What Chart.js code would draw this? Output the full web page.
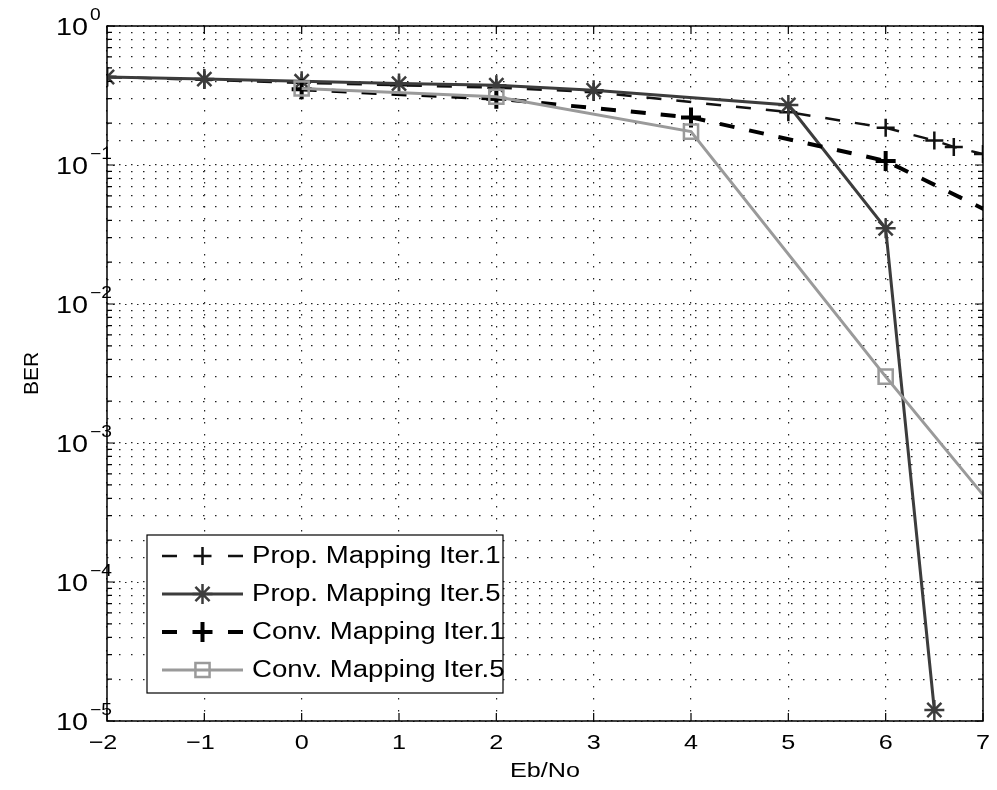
<!DOCTYPE html>
<html>
<head>
<meta charset="utf-8">
<script src="https://cdn.jsdelivr.net/npm/chart.js@4/dist/chart.umd.min.js"></script>
<style>
  html, body { margin: 0; padding: 0; background: #fff; }
  #wrap { width: 997px; height: 790px; }
</style>
</head>
<body>
<div id="wrap"><canvas id="berChart" width="997" height="790"></canvas></div>
<script>
// series names as in the legend
const seriesNames = ['Prop. Mapping Iter.1', 'Prop. Mapping Iter.5', 'Conv. Mapping Iter.1', 'Conv. Mapping Iter.5'];

// Eb/No points and BER values
const propIter1X = [-2, -1, 0, 1, 2, 3, 5, 6, 6.5, 6.7, 7];
const propIter1Y = [0.43, 0.41, 0.39, 0.375, 0.36, 0.335, 0.24, 0.185, 0.15, 0.135, 0.12];
const propIter5X = [-2, -1, 0, 1, 2, 3, 5, 6, 6.5];
const propIter5Y = [0.43, 0.415, 0.40, 0.385, 0.375, 0.345, 0.27, 0.035, 1.2e-5];
const convIter1X = [0, 2, 4, 6, 8];
const convIter1Y = [0.35, 0.30, 0.22, 0.107, 0.022];
const convIter5X = [0, 2, 4, 6, 8];
const convIter5Y = [0.355, 0.31, 0.174, 0.003, 0.00006];

// axis ticks
const xTicks = [-2, -1, 0, 1, 2, 3, 4, 5, 6, 7];
const yDecades = [0, -1, -2, -3, -4, -5];

const FONT = "'Liberation Sans', Arial, Helvetica, sans-serif";
const SX = 1.2; // the scan is a bit wider than tall, text looks stretched
Chart.defaults.font.family = FONT;
Chart.defaults.color = '#000';

function pts(xs, ys) {
    return xs.map((x, i) => ({ x: x, y: ys[i] }));
}

function wideText(ctx, text, x, y, align, sx) {
    ctx.save();
    ctx.translate(x, y);
    ctx.scale(sx, 1);
    ctx.textAlign = align;
    ctx.fillText(text, 0, 0);
    ctx.restore();
}

function drawMarker(ctx, style, x, y, r) {
    ctx.beginPath();
    if (style === 'rect') {
        const s = r * Math.SQRT1_2;
        ctx.rect(x - s, y - s, 2 * s, 2 * s);
    } else {
        ctx.moveTo(x - r, y); ctx.lineTo(x + r, y);
        ctx.moveTo(x, y - r); ctx.lineTo(x, y + r);
        if (style === 'star') {
            const d = r * Math.SQRT1_2;
            ctx.moveTo(x - d, y - d); ctx.lineTo(x + d, y + d);
            ctx.moveTo(x - d, y + d); ctx.lineTo(x + d, y - d);
        }
    }
    ctx.stroke();
}

const matlabAxes = {
    id: 'matlabAxes',
    beforeDatasetsDraw(chart) {
        // denser dots on the decade lines (major + minor grid overlap)
        const { ctx, chartArea: a, scales: { y } } = chart;
        ctx.save();
        ctx.strokeStyle = '#222';
        ctx.lineWidth = 1.2;
        ctx.setLineDash([1.5, 10.5]);
        ctx.lineDashOffset = -6;
        yDecades.forEach(k => {
            const py = Math.round(y.getPixelForValue(Math.pow(10, k))) + 0.5;
            ctx.beginPath(); ctx.moveTo(a.left, py); ctx.lineTo(a.right, py); ctx.stroke();
        });
        ctx.restore();
    },
    afterDraw(chart) {
        const { ctx, chartArea: a, scales: { x, y } } = chart;
        ctx.save();
        ctx.strokeStyle = '#000';
        ctx.lineWidth = 1.5;
        ctx.setLineDash([]);
        // frame
        ctx.strokeRect(a.left, a.top, a.right - a.left, a.bottom - a.top);

        // inner ticks
        ctx.lineWidth = 1.2;
        ctx.beginPath();
        xTicks.forEach(v => {
            const px = x.getPixelForValue(v);
            ctx.moveTo(px, a.bottom); ctx.lineTo(px, a.bottom - 8);
            ctx.moveTo(px, a.top); ctx.lineTo(px, a.top + 8);
        });
        yDecades.forEach(k => {
            for (let m = 1; m < 10; m++) {
                const val = m * Math.pow(10, k);
                if (val > 1 || val < 1e-5) continue;
                const py = y.getPixelForValue(val);
                const len = m === 1 ? 8 : 5;
                ctx.moveTo(a.left, py); ctx.lineTo(a.left + len, py);
                ctx.moveTo(a.right, py); ctx.lineTo(a.right - len, py);
            }
        });
        ctx.stroke();

        ctx.fillStyle = '#000';
        ctx.textBaseline = 'middle';

        // x tick labels and title
        ctx.font = '21px ' + FONT;
        xTicks.forEach(v => {
            const label = v < 0 ? '\u2212' + (-v) : String(v);
            const off = v < 0 ? -4 : 0;
            wideText(ctx, label, x.getPixelForValue(v) + off, a.bottom + 22, 'center', SX);
        });
        wideText(ctx, 'Eb/No', (a.left + a.right) / 2, a.bottom + 50, 'center', SX);

        // y tick labels 10^k
        yDecades.forEach(k => {
            const py = y.getPixelForValue(Math.pow(10, k));
            ctx.font = '24px ' + FONT;
            wideText(ctx, '10', a.left - 19, py + 2, 'right', SX);
            ctx.font = '16px ' + FONT;
            wideText(ctx, k === 0 ? '0' : '\u2212' + (-k), a.left - 17, py - 10, 'left', SX);
        });

        // legend
        const box = { x: 147, y: 535, w: 356, h: 158 };
        ctx.fillStyle = '#fff';
        ctx.fillRect(box.x, box.y, box.w, box.h);
        ctx.lineWidth = 1.2;
        ctx.strokeStyle = '#000';
        ctx.strokeRect(box.x, box.y, box.w, box.h);
        chart.data.datasets.forEach((ds, i) => {
            const cy = box.y + 21 + i * 38;
            const x0 = box.x + 15, x1 = box.x + 96, xm = (x0 + x1) / 2;
            ctx.strokeStyle = ds.borderColor;
            ctx.lineWidth = ds.borderWidth;
            ctx.beginPath();
            if (ds.borderDash) {
                ctx.moveTo(x0, cy); ctx.lineTo(x0 + 15, cy);
                ctx.moveTo(x1 - 15, cy); ctx.lineTo(x1, cy);
            } else {
                ctx.moveTo(x0, cy); ctx.lineTo(x1, cy);
            }
            ctx.stroke();
            ctx.strokeStyle = ds.pointBorderColor;
            ctx.lineWidth = ds.pointBorderWidth;
            drawMarker(ctx, ds.pointStyle, xm, cy, ds.pointRadius);
            ctx.fillStyle = '#000';
            ctx.font = '23px ' + FONT;
            wideText(ctx, ds.label, box.x + 105, cy + 1, 'left', SX);
        });
        ctx.restore();
    }
};

const datasets = [
    {
        label: seriesNames[0], data: pts(propIter1X, propIter1Y),
        borderColor: '#111', borderWidth: 2.5, borderDash: [15, 15],
        pointStyle: 'cross', pointRadius: 9, pointBorderWidth: 2.5,
        pointBorderColor: '#111', pointBackgroundColor: 'rgba(0,0,0,0)', order: 4
    },
    {
        label: seriesNames[1], data: pts(propIter5X, propIter5Y),
        borderColor: '#3c3c3c', borderWidth: 3,
        pointStyle: 'star', pointRadius: 10, pointBorderWidth: 2.5,
        pointBorderColor: '#3c3c3c', pointBackgroundColor: 'rgba(0,0,0,0)', order: 3
    },
    {
        label: seriesNames[2], data: pts(convIter1X, convIter1Y),
        borderColor: '#000', borderWidth: 4, borderDash: [15, 15],
        pointStyle: 'cross', pointRadius: 10, pointBorderWidth: 4,
        pointBorderColor: '#000', pointBackgroundColor: 'rgba(0,0,0,0)', order: 2
    },
    {
        label: seriesNames[3], data: pts(convIter5X, convIter5Y),
        borderColor: '#9a9a9a', borderWidth: 3,
        pointStyle: 'rect', pointRadius: 10, pointBorderWidth: 2.5,
        pointBorderColor: '#9a9a9a', pointBackgroundColor: 'rgba(0,0,0,0)', order: 1
    }
];

new Chart(document.getElementById('berChart').getContext('2d'), {
    type: 'line',
    data: { datasets: datasets },
    options: {
        responsive: false,
        animation: false,
        devicePixelRatio: 1,
        layout: { padding: { top: 26, right: 12, left: 0, bottom: 0 } },
        plugins: {
            legend: { display: false },
            tooltip: { enabled: false }
        },
        elements: { line: { tension: 0 } },
        scales: {
            x: {
                type: 'linear', min: -2, max: 7,
                afterFit(s) { s.height = 69; },
                afterBuildTicks(s) { s.ticks = xTicks.map(v => ({ value: v })); },
                ticks: { display: false },
                grid: { color: '#222', lineWidth: 1.2, drawTicks: false },
                border: { display: false, dash: [1.5, 10.5] }
            },
            y: {
                type: 'logarithmic', min: 1e-5, max: 1,
                afterFit(s) { s.width = 107; },
                ticks: { display: false },
                grid: { color: '#222', lineWidth: 1.2, drawTicks: false },
                border: { display: false, dash: [1.5, 10.5] },
                title: { display: true, text: 'BER', font: { size: 21 }, padding: { top: 20, bottom: 0 } }
            }
        }
    },
    plugins: [matlabAxes]
});
</script>
</body>
</html>
